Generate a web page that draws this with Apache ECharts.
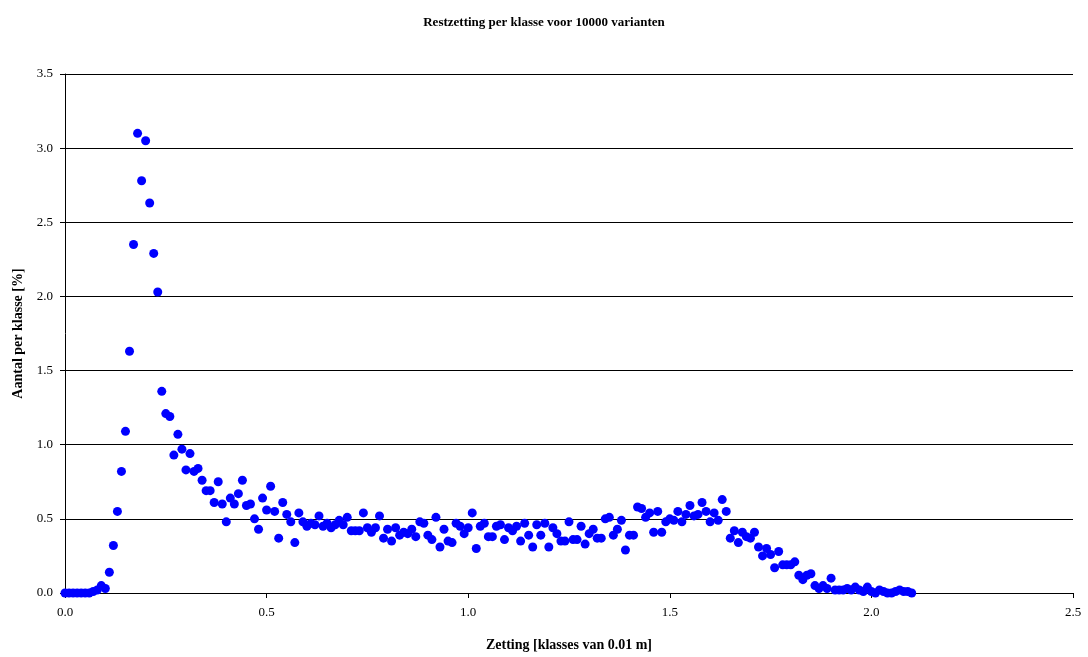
<!DOCTYPE html>
<html>
<head>
<meta charset="utf-8">
<script src="https://cdn.jsdelivr.net/npm/echarts@6/dist/echarts.min.js"></script>
<style>
  html, body { margin: 0; padding: 0; background: #fff; }
  #chart { width: 1088px; height: 657px; }
</style>
</head>
<body>
<div id="chart"></div>
<script>
// zetting klasses, stap 0.01 m, vanaf 0.00
const xStart = 0
const xStep = 0.01
// aantal per klasse [%]
const aantal = [
  0, 0, 0, 0, 0, 0, 0, 0.01, 0.02, 0.05,
  0.03, 0.14, 0.32, 0.55, 0.82, 1.09, 1.63, 2.35, 3.10, 2.78,
  3.05, 2.63, 2.29, 2.03, 1.36, 1.21, 1.19, 0.93, 1.07, 0.97,
  0.83, 0.94, 0.82, 0.84, 0.76, 0.69, 0.69, 0.61, 0.75, 0.60,
  0.48, 0.64, 0.60, 0.67, 0.76, 0.59, 0.60, 0.50, 0.43, 0.64,
  0.56, 0.72, 0.55, 0.37, 0.61, 0.53, 0.48, 0.34, 0.54, 0.48,
  0.45, 0.47, 0.46, 0.52, 0.45, 0.47, 0.44, 0.46, 0.49, 0.46,
  0.51, 0.42, 0.42, 0.42, 0.54, 0.44, 0.41, 0.44, 0.52, 0.37,
  0.43, 0.35, 0.44, 0.39, 0.41, 0.40, 0.43, 0.38, 0.48, 0.47,
  0.39, 0.36, 0.51, 0.31, 0.43, 0.35, 0.34, 0.47, 0.45, 0.40,
  0.44, 0.54, 0.30, 0.45, 0.47, 0.38, 0.38, 0.45, 0.46, 0.36,
  0.44, 0.42, 0.45, 0.35, 0.47, 0.39, 0.31, 0.46, 0.39, 0.47,
  0.31, 0.44, 0.40, 0.35, 0.35, 0.48, 0.36, 0.36, 0.45, 0.33,
  0.40, 0.43, 0.37, 0.37, 0.50, 0.51, 0.39, 0.43, 0.49, 0.29,
  0.39, 0.39, 0.58, 0.57, 0.51, 0.54, 0.41, 0.55, 0.41, 0.48,
  0.50, 0.49, 0.55, 0.48, 0.53, 0.59, 0.52, 0.53, 0.61, 0.55,
  0.48, 0.54, 0.49, 0.63, 0.55, 0.37, 0.42, 0.34, 0.41, 0.38,
  0.37, 0.41, 0.31, 0.25, 0.30, 0.26, 0.17, 0.28, 0.19, 0.19,
  0.19, 0.21, 0.12, 0.09, 0.12, 0.13, 0.05, 0.03, 0.05, 0.03,
  0.10, 0.02, 0.02, 0.02, 0.03, 0.02, 0.04, 0.02, 0.01, 0.04,
  0.01, 0.00, 0.02, 0.01, 0.00, 0.00, 0.01, 0.02, 0.01, 0.01,
  0.00
]
const xTicks = ['0.0', '0.5', '1.0', '1.5', '2.0', '2.5']
const yTicks = ['0.0', '0.5', '1.0', '1.5', '2.0', '2.5', '3.0', '3.5']

const punten = aantal.map((v, i) => [+(xStart + i * xStep).toFixed(2), v])

const font = '"Liberation Serif", "Times New Roman", serif'
const chart = echarts.init(document.getElementById('chart'))
chart.setOption({
  animation: false,
  backgroundColor: '#fff',
  title: {
    text: 'Restzetting per klasse voor 10000 varianten',
    left: 'center',
    top: 11,
    textStyle: { fontFamily: font, fontSize: 13, fontWeight: 'bold', color: '#000' }
  },
  grid: { left: 65, right: 15, top: 74, bottom: 64 },
  xAxis: {
    type: 'value',
    min: 0,
    max: 2.5,
    interval: 0.5,
    name: 'Zetting [klasses van 0.01 m]',
    nameLocation: 'middle',
    nameGap: 45,
    nameTextStyle: { fontFamily: font, fontSize: 14, fontWeight: 'bold', color: '#000' },
    axisLine: { onZero: false, lineStyle: { color: '#000', width: 1 } },
    axisTick: { show: true, length: 5, lineStyle: { color: '#000' } },
    axisLabel: {
      fontFamily: font, fontSize: 13, color: '#000', margin: 13,
      formatter: (v) => xTicks[Math.round(v / 0.5)]
    },
    splitLine: { show: false }
  },
  yAxis: {
    type: 'value',
    min: 0,
    max: 3.5,
    interval: 0.5,
    name: 'Aantal per klasse [%]',
    nameLocation: 'middle',
    nameGap: 40,
    nameRotate: 90,
    nameTextStyle: { fontFamily: font, fontSize: 14, fontWeight: 'bold', color: '#000' },
    axisLine: { show: true, lineStyle: { color: '#000', width: 1 } },
    axisTick: { show: true, length: 5, lineStyle: { color: '#000' } },
    axisLabel: {
      fontFamily: font, fontSize: 13, color: '#000', margin: 12,
      formatter: (v) => yTicks[Math.round(v / 0.5)]
    },
    splitLine: { show: true, lineStyle: { color: '#000', width: 1 } }
  },
  series: [{
    type: 'scatter',
    data: punten,
    symbol: 'circle',
    symbolSize: 9,
    itemStyle: { color: '#0000ff', opacity: 1 }
  }]
})
</script>
</body>
</html>
